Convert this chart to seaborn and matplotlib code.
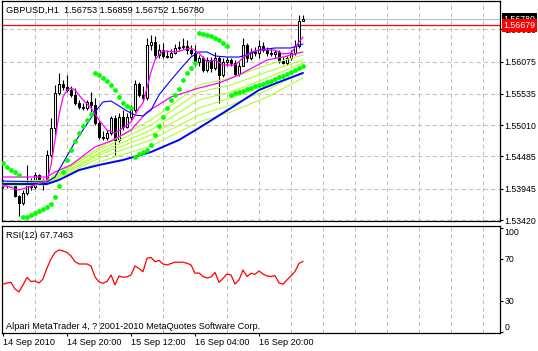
import numpy as np
import pandas as pd
import matplotlib
matplotlib.use('Agg')
import matplotlib.pyplot as plt
import matplotlib.transforms as mtransforms
import seaborn as sns

sns.set_theme(style='white')
plt.rcParams['font.family'] = ['Liberation Sans', 'DejaVu Sans']

# GBPUSD H1 bars, 14 Sep 04:00 .. 17 Sep 07:00
opens = [1.54024, 1.53991, 1.54041, 1.54024, 1.53823, 1.53706, 1.53873, 1.54024, 1.53974, 1.54175,
         1.54057, 1.54091, 1.54509, 1.54962, 1.55548, 1.55699, 1.55649, 1.55598, 1.55515, 1.55381,
         1.55314, 1.55297, 1.55398, 1.55347, 1.55046, 1.54811, 1.54795, 1.54878, 1.55129, 1.54761,
         1.55146, 1.54979, 1.55146, 1.55263, 1.55699, 1.55515, 1.55465, 1.56352, 1.56402, 1.56185,
         1.56268, 1.56168, 1.56151, 1.56218, 1.56302, 1.56319, 1.56335, 1.56268, 1.56218, 1.56067,
         1.56134, 1.55933, 1.56101, 1.55967, 1.56134, 1.55850, 1.56067, 1.56101, 1.56051, 1.55866,
         1.56000, 1.56352, 1.56134, 1.56235, 1.56218, 1.56335, 1.56268, 1.56218, 1.56201, 1.56235,
         1.56084, 1.56051, 1.56134, 1.56218, 1.56335, 1.56753]
highs = [1.54091, 1.54074, 1.54074, 1.54041, 1.53840, 1.53923, 1.54342, 1.54125, 1.54225, 1.54191,
         1.54125, 1.54593, 1.55129, 1.55682, 1.55883, 1.55766, 1.55850, 1.55665, 1.55632, 1.55431,
         1.55381, 1.55431, 1.55565, 1.55465, 1.55096, 1.54912, 1.54928, 1.55163, 1.55179, 1.55213,
         1.55263, 1.55213, 1.55347, 1.55766, 1.55732, 1.55665, 1.56469, 1.56520, 1.56503, 1.56369,
         1.56386, 1.56268, 1.56285, 1.56369, 1.56419, 1.56469, 1.56436, 1.56352, 1.56352, 1.56185,
         1.56168, 1.56151, 1.56151, 1.56235, 1.56168, 1.56134, 1.56151, 1.56134, 1.56101, 1.56067,
         1.56469, 1.56386, 1.56302, 1.56319, 1.56436, 1.56402, 1.56319, 1.56302, 1.56268, 1.56268,
         1.56151, 1.56168, 1.56268, 1.56436, 1.56855, 1.56859]
lows = [1.53957, 1.53957, 1.53991, 1.53806, 1.53488, 1.53672, 1.53840, 1.53923, 1.53940, 1.54024,
        1.53923, 1.54057, 1.54476, 1.54845, 1.55515, 1.55598, 1.55565, 1.55481, 1.55347, 1.55280,
        1.55263, 1.55263, 1.55230, 1.55012, 1.54778, 1.54761, 1.54761, 1.54845, 1.54509, 1.54728,
        1.54928, 1.54962, 1.55096, 1.55230, 1.55481, 1.55414, 1.55431, 1.56268, 1.56134, 1.56134,
        1.56134, 1.56134, 1.56134, 1.56201, 1.56252, 1.56285, 1.56201, 1.56185, 1.56000, 1.56000,
        1.55900, 1.55900, 1.55900, 1.55933, 1.55381, 1.55816, 1.56000, 1.56000, 1.55833, 1.55833,
        1.56000, 1.56067, 1.56101, 1.56168, 1.56134, 1.56235, 1.56168, 1.56168, 1.56134, 1.56051,
        1.56034, 1.56017, 1.56101, 1.56185, 1.56302, 1.56752]
closes = [1.53991, 1.54041, 1.54024, 1.53823, 1.53706, 1.53873, 1.54024, 1.53974, 1.54175, 1.54057,
          1.54091, 1.54509, 1.54962, 1.55548, 1.55699, 1.55649, 1.55598, 1.55515, 1.55381, 1.55314,
          1.55297, 1.55398, 1.55347, 1.55046, 1.54811, 1.54795, 1.54878, 1.55129, 1.54761, 1.55146,
          1.54979, 1.55146, 1.55263, 1.55699, 1.55515, 1.55465, 1.56352, 1.56402, 1.56185, 1.56268,
          1.56168, 1.56151, 1.56218, 1.56302, 1.56319, 1.56335, 1.56268, 1.56218, 1.56067, 1.56134,
          1.55933, 1.56101, 1.55967, 1.56134, 1.55850, 1.56067, 1.56101, 1.56051, 1.55866, 1.56000,
          1.56352, 1.56134, 1.56235, 1.56218, 1.56335, 1.56268, 1.56218, 1.56201, 1.56235, 1.56084,
          1.56051, 1.56134, 1.56218, 1.56335, 1.56754, 1.56780]

# parabolic SAR
sar = [1.54376, 1.54309, 1.54258, 1.54225, 1.54175, 1.53471, 1.53471, 1.53505, 1.53538, 1.53572,
       1.53605, 1.53639, 1.53689, 1.53806, 1.53991, 1.54225, 1.54426, 1.54593, 1.54744, 1.54878,
       1.54996, 1.55096, 1.55197, 1.55883, 1.55850, 1.55800, 1.55749, 1.55682, 1.55598, 1.55481,
       1.55381, 1.55331, 1.55297, 1.54476, 1.54526, 1.54560, 1.54593, 1.54677, 1.54845, 1.54996,
       1.55146, 1.55297, 1.55431, 1.55515, 1.55615, 1.55766, 1.55883, 1.55967, 1.56051, 1.56553,
       1.56536, 1.56520, 1.56503, 1.56469, 1.56436, 1.56386, 1.56335, 1.55515, 1.55548, 1.55565,
       1.55582, 1.55615, 1.55632, 1.55665, 1.55682, 1.55699, 1.55732, 1.55749, 1.55783, 1.55816,
       1.55833, 1.55866, 1.55900, 1.55933, 1.55967, 1.56000]

# RSI(12)
rsi = [45.7, 47.0, 47.5, 41.2, 38.4, 45.1, 52.3, 48.4, 48.9, 47.0,
       50.8, 61.4, 70.0, 76.3, 78.7, 77.7, 76.3, 72.9, 67.4, 65.2,
       65.2, 65.2, 63.3, 52.8, 48.0, 46.7, 48.4, 54.7, 45.1, 53.7,
       52.5, 52.8, 54.7, 63.3, 60.9, 57.8, 70.7, 71.5, 67.4, 68.7,
       65.2, 64.3, 65.7, 66.9, 66.9, 66.9, 65.9, 64.3, 56.3, 56.6,
       53.2, 51.8, 52.8, 57.1, 47.7, 51.3, 55.6, 54.7, 46.0, 49.9,
       59.5, 53.2, 56.3, 55.3, 58.5, 55.6, 53.7, 53.2, 54.0, 47.0,
       45.8, 49.9, 53.7, 58.0, 65.7, 67.7463]

# moving averages (read at the bars listed)
fast_bars = [0, 4, 8, 11, 12, 13, 14, 15, 16, 17, 18, 20, 22, 24, 26, 28, 30, 32, 34, 35, 36,
             37, 38, 39, 40, 43, 47, 49, 51, 53, 55, 58, 60, 62, 64, 68, 70, 72, 74, 75]
fast_ma = [1.54007, 1.53923, 1.54007, 1.54074, 1.54342, 1.54761, 1.55179, 1.55481, 1.55598, 1.55632,
           1.55598, 1.55431, 1.55297, 1.55096, 1.54928, 1.54878, 1.54962, 1.55062, 1.55297, 1.55381,
           1.55632, 1.55900, 1.56101, 1.56185, 1.56252, 1.56235, 1.56302, 1.56218, 1.56067, 1.56101,
           1.56017, 1.56017, 1.56134, 1.56235, 1.56268, 1.56268, 1.56201, 1.56218, 1.56402, 1.56486]
slow_bars = [0, 11, 13, 17, 23, 27, 32, 36, 42, 49, 54, 59, 66, 70, 75]
slow_ma = [1.54141, 1.54141, 1.54225, 1.54342, 1.54644, 1.54744, 1.54928, 1.55230, 1.55481, 1.55632,
           1.55716, 1.55850, 1.56101, 1.56151, 1.56235]
blue_bars = [0, 11, 13, 15, 18, 21, 23, 25, 27, 29, 31, 33, 35, 37, 39, 42, 45, 47, 49, 51, 53,
             56, 59, 61, 64, 68, 72, 75]
blue_ma = [1.54074, 1.54057, 1.54141, 1.54376, 1.54728, 1.55029, 1.55230, 1.55398, 1.55414, 1.55331,
           1.55247, 1.55179, 1.55163, 1.55263, 1.55515, 1.55766, 1.56000, 1.56151, 1.56235, 1.56235,
           1.56168, 1.56151, 1.56151, 1.56185, 1.56268, 1.56302, 1.56302, 1.56369]
long_bars = [0, 11, 14, 19, 24, 30, 37, 44, 49, 57, 64, 69, 75]
long_ma = [1.54024, 1.54024, 1.54091, 1.54258, 1.54342, 1.54426, 1.54560, 1.54761, 1.54962, 1.55297,
           1.55598, 1.55732, 1.55883]
green_bars = [0, 11, 24, 37, 49, 57, 66, 75]
green_1 = [1.54057, 1.54091, 1.54627, 1.55096, 1.55682, 1.55800, 1.56017, 1.56185]
green_2 = [1.54041, 1.54074, 1.54593, 1.55012, 1.55565, 1.55682, 1.55900, 1.56101]
green_3 = [1.54024, 1.54057, 1.54543, 1.54928, 1.55431, 1.55565, 1.55800, 1.56051]
green_4 = [1.54007, 1.54041, 1.54509, 1.54845, 1.55297, 1.55465, 1.55682, 1.55967]
green_5 = [1.53991, 1.54024, 1.54459, 1.54761, 1.55179, 1.55347, 1.55598, 1.55900]
green_6 = [1.53991, 1.54007, 1.54392, 1.54661, 1.55062, 1.55230, 1.55481, 1.55800]

price_ticks = [1.56615, 1.56075, 1.55535, 1.55010, 1.54485, 1.53945, 1.53420]
rsi_ticks = [0, 30, 70, 100]
time_ticks = [0, 16, 32, 48, 64]
time_labels = ['14 Sep 2010', '14 Sep 20:00', '15 Sep 12:00', '16 Sep 04:00', '16 Sep 20:00']
bid = 1.56780
alert = 1.56679

bars = np.arange(len(closes))
df = pd.DataFrame({'bar': bars, 'open': opens, 'high': highs, 'low': lows,
                   'close': closes, 'sar': sar, 'rsi': rsi})

W, H = 538, 351
fig = plt.figure(figsize=(W / 100, H / 100), dpi=100)
ax = fig.add_axes([2 / W, 1 - 221 / H, 498 / W, 220 / H])
ax2 = fig.add_axes([2 / W, 1 - 333 / H, 498 / W, 107 / H])

FS = 6.6
FSY = 6.3
grid_kw = dict(color='#c0c0c0', linestyle=(0, (4, 3)), linewidth=0.75)

# candles
ax.vlines(df['bar'], df['low'], df['high'], color='black', linewidth=0.8, zorder=3)
up = df['close'] >= df['open']
ax.bar(df['bar'][up], (df['close'] - df['open'])[up], bottom=df['open'][up], width=0.7,
       color='white', edgecolor='black', linewidth=0.75, zorder=4)
ax.bar(df['bar'][~up], (df['close'] - df['open'])[~up], bottom=df['open'][~up], width=0.7,
       color='black', edgecolor='black', linewidth=0.75, zorder=4)

# moving averages
for g in [green_6, green_5, green_4, green_3, green_2, green_1]:
    sns.lineplot(x=green_bars, y=g, ax=ax, color='#adff2f', linewidth=0.8, zorder=5)
sns.lineplot(x=long_bars, y=long_ma, ax=ax, color='#0000ff', linewidth=1.4, zorder=5)
sns.lineplot(x=slow_bars, y=slow_ma, ax=ax, color='#ff00ff', linewidth=0.9, zorder=5)
sns.lineplot(x=blue_bars, y=blue_ma, ax=ax, color='#0000ff', linewidth=0.8, zorder=5)
sns.lineplot(x=fast_bars, y=fast_ma, ax=ax, color='#ff00ff', linewidth=0.9, zorder=6)
sns.scatterplot(data=df, x='bar', y='sar', ax=ax, color='#00ff00', marker='o', s=12,
                linewidth=0, zorder=7)

ax.axhline(bid, color='#c0c0c0', linewidth=0.8, zorder=2)
ax.axhline(alert, color='red', linewidth=0.9, zorder=2)

ax.set_xlim(-0.25, 124.25)
ax.set_ylim(1.53404, 1.57089)
ax.set_xticks([])
ax.set_xticks(np.arange(8, 125, 8), minor=True)
ax.set_yticks(price_ticks)
ax.set_yticklabels(['%.5f' % v for v in price_ticks])
ax.yaxis.tick_right()
ax.tick_params(axis='y', which='major', direction='out', length=2.2, width=0.8,
               pad=1.2, labelsize=FSY, colors='black', right=True, left=False)
ax.tick_params(axis='x', which='minor', length=0)
ax.grid(True, axis='y', which='major', **grid_kw)
ax.grid(True, axis='x', which='minor', **grid_kw)
ax.set_xlabel('')
ax.set_ylabel('')

trans = mtransforms.blended_transform_factory(ax.transAxes, ax.transData)
ax.text(1.007, bid, '1.56780', transform=trans, ha='left', va='center', fontsize=FSY,
        color='white', clip_on=False, zorder=10,
        bbox=dict(boxstyle='square,pad=0.2', fc='black', ec='none'))
ax.text(1.007, alert, '1.56679', transform=trans, ha='left', va='center', fontsize=FSY,
        color='white', clip_on=False, zorder=11,
        bbox=dict(boxstyle='square,pad=0.2', fc='red', ec='none'))

ax.text(0.008, 0.958, 'GBPUSD,H1  1.56753 1.56859 1.56752 1.56780', transform=ax.transAxes,
        ha='left', va='center', fontsize=FS, color='black', zorder=10)

# RSI panel
sns.lineplot(data=df, x='bar', y='rsi', ax=ax2, color='red', linewidth=0.9, zorder=5)
ax2.set_xlim(-0.25, 124.25)
ax2.set_ylim(-1, 101.65)
ax2.set_xticks(time_ticks)
ax2.set_xticklabels(time_labels, ha='left')
ax2.set_xticks(np.arange(8, 125, 8), minor=True)
ax2.set_yticks(rsi_ticks)
ax2.set_yticklabels([str(v) for v in rsi_ticks])
ax2.yaxis.tick_right()
labels = ax2.get_yticklabels()
labels[0].set_va('bottom')
labels[-1].set_va('top')
ax2.tick_params(axis='y', which='major', direction='out', length=2.2, width=0.8,
                pad=1.2, labelsize=FSY, colors='black', right=True, left=False)
ax2.tick_params(axis='x', which='major', direction='out', length=2.2, width=0.8,
                pad=1.5, labelsize=FS, colors='black', bottom=True)
ax2.tick_params(axis='x', which='minor', length=0)
ax2.grid(True, axis='x', which='minor', **grid_kw)
ax2.grid(False, axis='x', which='major')
ax2.set_yticks([30, 70], minor=True)
ax2.tick_params(axis='y', which='minor', length=0)
ax2.grid(True, axis='y', which='minor', **grid_kw)
ax2.grid(False, axis='y', which='major')
ax2.set_xlabel('')
ax2.set_ylabel('')
ax2.text(0.008, 0.91, 'RSI(12) 67.7463', transform=ax2.transAxes, ha='left', va='center',
         fontsize=FS, color='black')
ax2.text(0.008, 0.065, 'Alpari MetaTrader 4, ? 2001-2010 MetaQuotes Software Corp.',
         transform=ax2.transAxes, ha='left', va='center', fontsize=FS, color='black')

for a in (ax, ax2):
    for s in a.spines.values():
        s.set_color('black')
        s.set_linewidth(0.9)
    a.set_facecolor('white')

fig.savefig('out.png', dpi=100, facecolor='white')
